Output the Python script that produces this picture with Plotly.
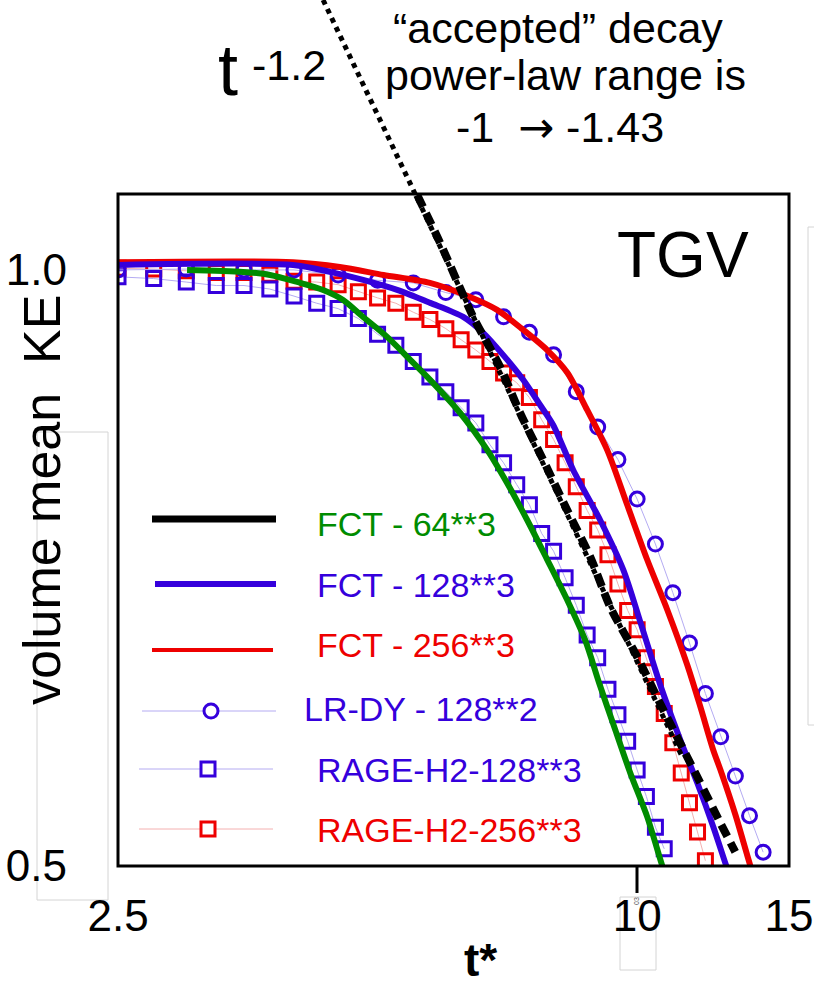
import math
import plotly.graph_objects as go

# ---------------- data (t*, volume-mean KE) ----------------
t_fct64 = [3.006, 3.491, 3.752, 4.033, 4.323, 4.56, 4.81, 5.129, 5.456, 5.753, 6.234, 6.70,
           7.066, 7.455, 7.864, 8.295, 8.703, 9.035, 9.432, 9.817, 10.273, 10.694, 10.8]
ke_fct64 = [1.0, 0.9977, 0.9942, 0.9861, 0.9770, 0.9657, 0.9468, 0.9251, 0.9007, 0.8800, 0.8467, 0.8111,
            0.7804, 0.7476, 0.7140, 0.6813, 0.6503, 0.6185, 0.5857, 0.5571, 0.5293, 0.500, 0.494]

t_fct128 = [2.5, 3.99, 4.405, 4.81, 5.268, 5.753, 6.285, 6.629, 6.991, 7.376, 7.718, 7.991, 8.43,
            9.059, 9.635, 10.11, 10.637, 11.22, 11.741, 12.254, 12.686, 12.85]
ke_fct128 = [1.0058, 1.0058, 0.9977, 0.9884, 0.9770, 0.9624, 0.9468, 0.9294, 0.9059, 0.8800, 0.8546, 0.8350, 0.7924,
             0.7476, 0.7057, 0.6617, 0.6171, 0.5790, 0.5507, 0.5232, 0.500, 0.492]

t_fct256 = [2.5, 3.99, 4.52, 5.08, 5.75, 6.40, 6.88, 7.38, 7.86, 8.30, 8.75, 9.23, 9.74, 10.27,
            10.84, 11.43, 11.84, 12.25, 12.49, 13.0, 13.53, 13.7]
ke_fct256 = [1.009, 1.009, 1.0035, 0.9942, 0.985, 0.969, 0.9546, 0.9326, 0.9112, 0.8872, 0.8497, 0.8111, 0.7607, 0.714,
             0.6733, 0.6317, 0.6015, 0.5723, 0.5591, 0.5306, 0.500, 0.492]

t_black = [5.558, 5.909, 6.455, 6.935, 7.316, 7.78, 8.295, 8.82, 9.307, 10.002, 10.723, 11.741, 12.485, 12.995]
ke_black = [1.0911, 1.0319, 0.9468, 0.8934, 0.8467, 0.8017, 0.7563, 0.7165, 0.6756, 0.6376, 0.5995, 0.5546, 0.5257, 0.5082]

t_powerlaw = [4.323, 11.28]
ke_powerlaw = [1.3689, 0.5676]

t_lrdy = [2.5, 3.0, 3.5, 4.0, 4.5, 5.0, 5.5, 6.0, 6.5, 7.0, 7.5, 8.0, 8.5, 9.0, 9.5, 10.0,
          10.5, 11.0, 11.5, 12.0, 12.5, 13.0, 13.5, 14.0]
ke_lrdy = [1.000, 1.001, 1.000, 1.000, 0.994, 0.988, 0.985, 0.974, 0.966, 0.947, 0.930, 0.906,
           0.868, 0.833, 0.802, 0.766, 0.727, 0.687, 0.648, 0.611, 0.581, 0.555, 0.530, 0.508]

t_rage128 = [2.5, 2.75, 3.0, 3.25, 3.5, 3.75, 4.0, 4.25, 4.5, 4.75, 5.0, 5.25, 5.5, 5.75, 6.0, 6.25, 6.5,
             6.75, 7.0, 7.25, 7.5, 7.75, 8.0, 8.25, 8.5, 8.75, 9.0, 9.25, 9.5, 9.75, 10.0, 10.25, 10.5, 10.75]
ke_rage128 = [0.992, 0.990, 0.986, 0.982, 0.982, 0.978, 0.970, 0.962, 0.956, 0.945, 0.928, 0.916, 0.899, 0.883,
              0.868, 0.852, 0.837, 0.816, 0.799, 0.779, 0.761, 0.736, 0.721, 0.699, 0.677, 0.654, 0.637,
              0.614, 0.596, 0.578, 0.559, 0.542, 0.523, 0.510]

t_rage256 = [2.5, 2.75, 3.0, 3.25, 3.5, 3.75, 4.0, 4.25, 4.5, 4.75, 5.0, 5.25, 5.5, 5.75, 6.0, 6.25, 6.5,
             6.75, 7.0, 7.25, 7.5, 7.75, 8.0, 8.25, 8.5, 8.75, 9.0, 9.25, 9.5, 9.75, 10.0, 10.25, 10.5,
             10.75, 11.0, 11.25, 11.5, 11.75, 12.0]
ke_rage256 = [1.002, 1.001, 0.999, 0.997, 0.997, 0.995, 0.987, 0.986, 0.983, 0.975, 0.968, 0.962, 0.952,
              0.944, 0.934, 0.922, 0.911, 0.899, 0.887, 0.877, 0.862, 0.840, 0.821, 0.799, 0.777, 0.756,
              0.739, 0.718, 0.694, 0.673, 0.658, 0.637, 0.616, 0.597, 0.577, 0.557, 0.538, 0.520, 0.503]

x_tickvals = [2.5, 10, 15]
x_ticktext = ["2.5", "10", "15"]
y_tickvals = [0.5, 1.0]
y_ticktext = ["0.5", "1.0"]

legend_labels = ["FCT - 64**3", "FCT - 128**3", "FCT - 256**3",
                 "LR-DY - 128**2", "RAGE-H2-128**3", "RAGE-H2-256**3"]

# ---------------- styling ----------------
BLUE = "#3500DC"
RED = "#EE0000"
GREEN = "#008C00"
LAV = "#B4ABF2"
PINK = "#F4B0B0"
GRAY = "#D4D4D4"
SANS = "Liberation Sans, Arial, sans-serif"

W, H = 814, 986
L, R, T, B = 118, 25, 0, 120
PW, PH = W - L - R, H - T - B


def px(x):
    return (x - L) / PW


def py(y):
    return (H - B - y) / PH


fig = go.Figure()

# marker series
fig.add_trace(go.Scatter(x=t_rage256, y=ke_rage256, mode="lines+markers", name=legend_labels[5],
                         line=dict(color=PINK, width=1),
                         marker=dict(symbol="square-open", size=14, color=RED, line=dict(width=3, color=RED))))
fig.add_trace(go.Scatter(x=t_rage128, y=ke_rage128, mode="lines+markers", name=legend_labels[4],
                         line=dict(color=LAV, width=1),
                         marker=dict(symbol="square-open", size=14, color=BLUE, line=dict(width=3, color=BLUE))))
fig.add_trace(go.Scatter(x=t_lrdy, y=ke_lrdy, mode="lines+markers", name=legend_labels[3],
                         line=dict(color=LAV, width=1),
                         marker=dict(symbol="circle-open", size=14, color=BLUE, line=dict(width=3, color=BLUE))))
# line series
fig.add_trace(go.Scatter(x=t_fct64, y=ke_fct64, mode="lines", name=legend_labels[0],
                         line=dict(color=GREEN, width=6, shape="spline", smoothing=0.8)))
fig.add_trace(go.Scatter(x=t_fct256, y=ke_fct256, mode="lines", name=legend_labels[2],
                         line=dict(color=RED, width=6, shape="spline", smoothing=0.8)))
fig.add_trace(go.Scatter(x=t_fct128, y=ke_fct128, mode="lines", name=legend_labels[1],
                         line=dict(color=BLUE, width=6, shape="spline", smoothing=0.8)))
fig.add_trace(go.Scatter(x=t_black, y=ke_black, mode="lines", name="black",
                         line=dict(color="black", width=8, dash="13px,7px", shape="spline", smoothing=0.8)))
fig.add_trace(go.Scatter(x=t_powerlaw, y=ke_powerlaw, mode="lines", name="t^-1.2",
                         line=dict(color="black", width=5, dash="5px,5px")))

shapes = []
# frame box
shapes.append(dict(type="rect", xref="paper", yref="paper", x0=0, x1=1, y0=0, y1=py(194),
                   line=dict(color="black", width=3), layer="above"))
# tick mark at 10
shapes.append(dict(type="line", xref="paper", yref="paper", x0=px(637), x1=px(637), y0=py(866), y1=py(893),
                   line=dict(color="black", width=3)))
# faint grey boxes (scan artefacts)
for (x0, y0, x1, y1) in [(37, 432, 108, 900), (808, 227, 830, 725), (620, 897, 656, 970)]:
    shapes.append(dict(type="rect", xref="paper", yref="paper", x0=px(x0), x1=px(x1), y0=py(y0), y1=py(y1),
                       line=dict(color=GRAY, width=1), layer="below"))

# manual legend samples
leg_rows = [
    dict(y=519, x0=152, x1=276, color="black", width=7, text_x=315, ty=524, tcol=GREEN, mk=None),
    dict(y=584, x0=155, x1=276, color=BLUE, width=6, text_x=315, ty=585, tcol=BLUE, mk=None),
    dict(y=650, x0=152, x1=273, color=RED, width=4, text_x=315, ty=645, tcol=RED, mk=None),
    dict(y=711, x0=142, x1=276, color=LAV, width=1, text_x=302, ty=709, tcol=BLUE, mk=("circle", 211, BLUE)),
    dict(y=769, x0=139, x1=273, color=LAV, width=1, text_x=315, ty=770, tcol=BLUE, mk=("rect", 208, BLUE)),
    dict(y=829, x0=139, x1=273, color=PINK, width=1, text_x=315, ty=830, tcol=RED, mk=("rect", 208, RED)),
]
annotations = []
for row, lab in zip(leg_rows, legend_labels):
    shapes.append(dict(type="line", xref="paper", yref="paper", x0=px(row["x0"]), x1=px(row["x1"]),
                       y0=py(row["y"]), y1=py(row["y"]), line=dict(color=row["color"], width=row["width"])))
    if row["mk"]:
        kind, cx, col = row["mk"]
        r = 7
        shapes.append(dict(type=kind, xref="paper", yref="paper", x0=px(cx - r), x1=px(cx + r),
                           y0=py(row["y"] + r), y1=py(row["y"] - r), fillcolor="white",
                           line=dict(color=col, width=3)))
    annotations.append(dict(xref="paper", yref="paper", x=px(row["text_x"]), y=py(row["ty"]),
                            xanchor="left", yanchor="middle", showarrow=False, text=lab,
                            font=dict(family=SANS, size=34, color=row["tcol"])))

# other texts
annotations += [
    dict(xref="paper", yref="paper", x=px(683), y=py(255), text="TGV", showarrow=False,
         xanchor="center", yanchor="middle", font=dict(family=SANS, size=64, color="black")),
    dict(xref="paper", yref="paper", x=px(216), y=py(70), text="t", showarrow=False,
         xanchor="left", yanchor="middle", font=dict(family=SANS, size=72, color="black")),
    dict(xref="paper", yref="paper", x=px(250), y=py(65), text="-1.2", showarrow=False,
         xanchor="left", yanchor="middle", font=dict(family=SANS, size=43, color="black")),
    dict(xref="paper", yref="paper", x=px(558), y=py(28), text="\u201caccepted\u201d decay", showarrow=False,
         xanchor="center", yanchor="middle", font=dict(family=SANS, size=43, color="black")),
    dict(xref="paper", yref="paper", x=px(565), y=py(75), text="power-law range is", showarrow=False,
         xanchor="center", yanchor="middle", font=dict(family=SANS, size=43, color="black")),
    dict(xref="paper", yref="paper", x=px(560), y=py(127),
         text="-1  <span style=\"font-family:'DejaVu Sans'\">\u2192</span> -1.43", showarrow=False,
         xanchor="center", yanchor="middle", font=dict(family=SANS, size=43, color="black")),
    dict(xref="paper", yref="paper", x=px(480), y=py(960), text="<b>t*</b>", showarrow=False,
         xanchor="center", yanchor="middle", font=dict(family=SANS, size=46, color="black")),
    dict(xref="paper", yref="paper", x=px(42), y=py(500), text="volume mean  KE", showarrow=False,
         textangle=-90, xanchor="center", yanchor="middle", font=dict(family=SANS, size=52, color="black")),
    dict(xref="paper", yref="paper", x=px(637), y=py(901), text="03", showarrow=False,
         textangle=-90, xanchor="center", yanchor="middle", font=dict(family=SANS, size=7, color="#555555")),
]

fig.update_layout(
    width=W, height=H,
    margin=dict(l=L, r=R, t=T, b=B, pad=0),
    paper_bgcolor="white", plot_bgcolor="white",
    showlegend=False,
    shapes=shapes,
    annotations=annotations,
    xaxis=dict(type="log", range=[math.log10(2.4999), math.log10(15.001)],
               tickvals=x_tickvals, ticktext=x_ticktext, ticks="",
               showgrid=False, zeroline=False, showline=False, ticklabeloverflow="allow",
               tickfont=dict(family=SANS, size=44, color="black"), ticklabelstandoff=20),
    yaxis=dict(type="log", range=[math.log10(0.4999), 0.13636],
               tickvals=y_tickvals, ticktext=y_ticktext, ticks="",
               showgrid=False, zeroline=False, showline=False, ticklabeloverflow="allow",
               tickfont=dict(family=SANS, size=44, color="black"), ticklabelstandoff=50),
)

fig.write_html("out.html")
